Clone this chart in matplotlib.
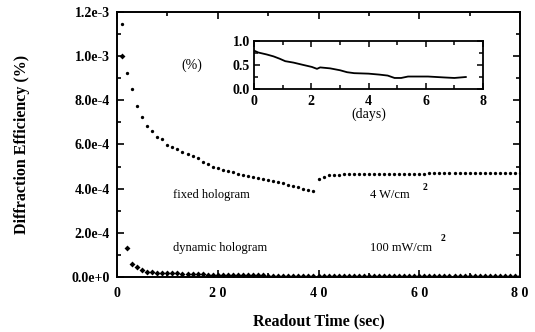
import numpy as np
import matplotlib
matplotlib.use("Agg")
import matplotlib.pyplot as plt
from matplotlib.ticker import MultipleLocator, FixedLocator, FixedFormatter

# readout time (sec), one point per second
time_fixed = list(range(1, 81))
eff_fixed = [1.146, 0.924, 0.851, 0.774, 0.725, 0.684, 0.661, 0.634, 0.625, 0.598,
             0.589, 0.580, 0.566, 0.557, 0.548, 0.539, 0.521, 0.512, 0.498, 0.494,
             0.485, 0.480, 0.475, 0.466, 0.462, 0.457, 0.453, 0.448, 0.444, 0.439,
             0.435, 0.430, 0.426, 0.417, 0.412, 0.408, 0.399, 0.394, 0.389, 0.444,
             0.453, 0.462, 0.462, 0.464, 0.465, 0.466, 0.466, 0.466, 0.466, 0.467,
             0.467, 0.467, 0.467, 0.467, 0.468, 0.468, 0.468, 0.468, 0.468, 0.468,
             0.468, 0.469, 0.469, 0.469, 0.469, 0.469, 0.469, 0.469, 0.469, 0.470,
             0.470, 0.470, 0.470, 0.470, 0.470, 0.470, 0.470, 0.470, 0.470, 0.470]
eff_fixed = [v * 1e-3 for v in eff_fixed]

time_dyn = list(range(1, 81))
eff_dyn = [100.0, 13.0, 6.0, 4.5, 3.2, 2.4, 2.2, 2.0, 1.9, 1.8,
           1.7, 1.6, 1.5, 1.4, 1.3, 1.2, 1.2, 1.1, 1.0, 1.0,
           0.9, 0.9, 0.8, 0.8, 0.8, 0.7, 0.7, 0.7, 0.7, 0.6,
           0.6, 0.6, 0.6, 0.6, 0.6, 0.6, 0.6, 0.6, 0.6, 0.6,
           0.6, 0.6, 0.6, 0.6, 0.6, 0.6, 0.6, 0.6, 0.6, 0.6,
           0.6, 0.6, 0.6, 0.6, 0.6, 0.6, 0.6, 0.6, 0.6, 0.6,
           0.6, 0.6, 0.6, 0.6, 0.6, 0.6, 0.6, 0.6, 0.6, 0.6,
           0.6, 0.6, 0.6, 0.6, 0.6, 0.6, 0.6, 0.6, 0.6, 0.6]
eff_dyn = [v * 1e-5 for v in eff_dyn]

# long term decay of the fixed hologram (inset)
days = [0.0, 0.15, 0.44, 0.68, 0.9, 1.09, 1.38, 1.73, 2.02, 2.2, 2.31, 2.66, 3.01,
        3.25, 3.5, 4.0, 4.38, 4.67, 4.91, 5.14, 5.38, 6.08, 6.67, 7.0, 7.4]
eff_days = [0.80, 0.76, 0.72, 0.68, 0.63, 0.58, 0.55, 0.50, 0.46, 0.42, 0.45, 0.43, 0.39,
            0.35, 0.33, 0.32, 0.30, 0.28, 0.23, 0.23, 0.26, 0.26, 0.24, 0.23, 0.25]

y_ticks = [0.0, 2e-4, 4e-4, 6e-4, 8e-4, 1e-3, 1.2e-3]
y_ticklabels = ["0.0e+0", "2.0e-4", "4.0e-4", "6.0e-4", "8.0e-4", "1.0e-3", "1.2e-3"]
x_ticks = [0, 20, 40, 60, 80]
x_ticklabels = ["0", "2 0", "4 0", "6 0", "8 0"]
inset_xticks = [0, 2, 4, 6, 8]
inset_yticks = [0.0, 0.5, 1.0]
inset_yticklabels = ["0.0", "0.5", "1.0"]

plt.rcParams["font.family"] = ["Liberation Serif", "DejaVu Serif"]

fig = plt.figure(figsize=(5.35, 3.32), dpi=100)
ax = fig.add_axes([0.2187, 0.1657, 0.7533, 0.7982])

ax.plot(time_fixed, eff_fixed, "o", color="black", ms=2.4, mew=0)
ax.plot(time_dyn, eff_dyn, "D", color="black", ms=3.0, mew=0)

ax.set_xlim(0, 80)
ax.set_ylim(0, 1.2e-3)
ax.xaxis.set_major_locator(FixedLocator(x_ticks))
ax.xaxis.set_major_formatter(FixedFormatter(x_ticklabels))
ax.xaxis.set_minor_locator(MultipleLocator(10))
ax.yaxis.set_major_locator(FixedLocator(y_ticks))
ax.yaxis.set_major_formatter(FixedFormatter(y_ticklabels))
ax.yaxis.set_minor_locator(MultipleLocator(1e-4))
ax.tick_params(which="both", direction="in", top=True, right=True, width=1.2)
ax.tick_params(which="major", length=5)
ax.tick_params(which="minor", length=3)
ax.tick_params(axis="y", pad=5, labelsize=10)
ax.tick_params(axis="x", pad=7, labelsize=10)
for lab in ax.get_xticklabels() + ax.get_yticklabels():
    lab.set_fontweight("bold")
for s in ax.spines.values():
    s.set_linewidth(1.4)

ax.set_xlabel("Readout Time (sec)", fontsize=11.5, fontweight="bold", labelpad=10)
ax.set_ylabel("Diffraction Efficiency (%)", fontsize=11.5, fontweight="bold", labelpad=30)

ax.text(11.1, 3.71e-4, "fixed hologram", fontsize=9, va="center")
ax.text(11.1, 1.31e-4, "dynamic hologram", fontsize=9, va="center")
ax.text(50.2, 3.71e-4, "4 W/cm", fontsize=9, va="center")
ax.text(60.6, 4.07e-4, "2", fontsize=7, fontweight="bold", va="center")
ax.text(50.2, 1.31e-4, "100 mW/cm", fontsize=9, va="center")
ax.text(64.2, 1.75e-4, "2", fontsize=7, fontweight="bold", va="center")

# inset
ins = fig.add_axes([0.4748, 0.7319, 0.4280, 0.1446])
ins.plot(days, eff_days, color="black", lw=1.3)
ins.set_xlim(0, 8)
ins.set_ylim(0, 1.0)
ins.set_xticks(inset_xticks)
ins.xaxis.set_minor_locator(MultipleLocator(1))
ins.set_yticks(inset_yticks)
ins.set_yticklabels(inset_yticklabels)
ins.yaxis.set_minor_locator(MultipleLocator(0.25))
ins.tick_params(which="both", direction="in", top=True, right=True, width=1.1, labelsize=10)
ins.tick_params(which="major", length=4)
ins.tick_params(which="minor", length=3)
ins.tick_params(axis="x", pad=4)
ins.tick_params(axis="y", pad=3)
for lab in ins.get_xticklabels() + ins.get_yticklabels():
    lab.set_fontweight("bold")
for s in ins.spines.values():
    s.set_linewidth(1.3)
ins.set_xlabel("(days)", fontsize=10, labelpad=0)
ins.text(-0.27, 0.5, "(%)", transform=ins.transAxes, fontsize=10, ha="center", va="center")

fig.savefig("out.png", dpi=100)
